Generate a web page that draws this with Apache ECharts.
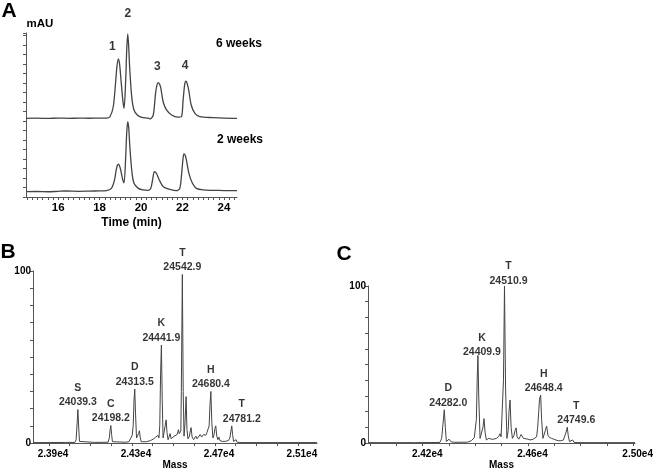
<!DOCTYPE html>
<html><head><meta charset="utf-8">
<script src="https://cdn.jsdelivr.net/npm/echarts@6/dist/echarts.min.js"></script>
<style>html,body{margin:0;padding:0;background:#fff}#c{width:656px;height:471px}</style>
</head><body><div id="c"></div>
<script>
// ---------------- DATA ----------------
// Panel A: chromatograms (time in min, absorbance in arbitrary units)
const timeTickLabels = [16, 18, 20, 22, 24];
const trace6w = [[14.45,8.28],[15.0,8.3],[15.5,8.27],[16.0,8.31],[16.5,8.28],[17.0,8.3],[17.5,8.29],[18.0,8.31],[18.33,8.3],[18.5,8.45],[18.66,9.5],[18.77,11.97],[18.84,13.8],[18.91,14.53],[18.97,13.9],[19.02,12.66],[19.12,10.2],[19.18,9.34],[19.26,12.3],[19.31,15.5],[19.36,17.16],[19.41,15.6],[19.45,13.7],[19.55,10.56],[19.66,9.16],[19.82,8.63],[20.03,8.39],[20.35,8.3],[20.45,8.22],[20.59,8.63],[20.7,10.9],[20.77,11.8],[20.83,12.03],[20.89,11.9],[20.95,11.5],[21.07,10.0],[21.23,9.16],[21.47,8.63],[21.79,8.4],[21.95,8.45],[22.03,10.2],[22.11,11.9],[22.17,12.2],[22.23,11.9],[22.3,11.26],[22.42,9.68],[22.6,8.8],[22.84,8.45],[23.48,8.35],[24.0,8.3],[24.63,8.28]];
const trace2w = [[14.45,0.56],[15.0,0.58],[15.5,0.55],[16.0,0.6],[16.4,0.63],[17.0,0.6],[17.5,0.62],[18.0,0.64],[18.33,0.67],[18.57,0.91],[18.72,1.79],[18.8,2.84],[18.86,3.35],[18.91,3.47],[18.96,3.3],[19.02,2.84],[19.12,1.79],[19.18,1.5],[19.26,4.24],[19.31,6.8],[19.36,7.93],[19.41,7.2],[19.45,5.65],[19.55,2.84],[19.66,1.44],[19.87,0.91],[20.1,0.74],[20.35,0.7],[20.47,0.91],[20.57,1.96],[20.64,2.67],[20.7,2.6],[20.76,2.42],[20.88,1.79],[21.07,1.09],[21.39,0.81],[21.71,0.67],[21.87,0.91],[21.96,2.49],[22.02,3.9],[22.07,4.53],[22.13,4.4],[22.19,3.89],[22.31,2.49],[22.48,1.44],[22.67,0.91],[22.99,0.74],[23.5,0.7],[24.0,0.68],[24.63,0.67]];
const peakNames = ['1', '2', '3', '4'];
const peakTimes = [18.91, 19.36, 20.83, 22.17];
const traceNames = ['6 weeks', '2 weeks'];

// Panel B: deconvoluted mass spectrum (mass in Da, relative intensity %)
const massTickLabelsB = [23900, 24300, 24700, 25100];
const specB = [[23823,0.3],[23900,0.3],[23980,0.4],[24025,0.4],[24031,2],[24036,12],[24039.3,19.5],[24043,10],[24047,1],[24052,0.4],[24120,0.4],[24185,0.5],[24191,3],[24195,8],[24198.2,10.2],[24202,5],[24206,0.8],[24215,0.5],[24270,0.5],[24285,0.8],[24295,3],[24301,4.5],[24306,10],[24310,25],[24313.5,31.4],[24317,18],[24322,3],[24327,2],[24332,5.5],[24336,7.2],[24340,3],[24345,0.8],[24370,0.8],[24390,1.5],[24405,2.5],[24415,3.5],[24420,2.5],[24425,4.5],[24430,3],[24434,10],[24438,40],[24441.9,57],[24446,25],[24450,3],[24456,4],[24460,10],[24464.8,13.5],[24469,6],[24474,2],[24480,4],[24484,5.5],[24489,2.5],[24495,3],[24503,4],[24510,3],[24518,5],[24524,7.8],[24528,5.5],[24532,6.5],[24535.7,7],[24538,30],[24542.9,98],[24547,30],[24551,4],[24556,12],[24561,27],[24565,8],[24570,2.5],[24577,4],[24581,7],[24585,9],[24590,3.5],[24597,2],[24603,3],[24608,4],[24614,2.5],[24620,3.5],[24629,5],[24636,3.5],[24641,4],[24645,5],[24651,4],[24656,4.5],[24661,6],[24667,5],[24672,10],[24676,22],[24680.4,30],[24685,12],[24690,3],[24696,5],[24700,8.5],[24704,10],[24709,4],[24714,2],[24719,3.5],[24724,1.5],[24735,1],[24750,1],[24765,1.5],[24772,3],[24777,7],[24781.2,10],[24785,5],[24790,1],[24797,1],[24802,2],[24807,0.5],[24830,0.3],[25000,0.3],[25192,0.3]];
const annLettersB = ['S', 'C', 'D', 'K', 'T', 'H', 'T'];
const annMassesB = [24039.3, 24198.2, 24313.5, 24441.9, 24542.9, 24680.4, 24781.2];

// Panel C: deconvoluted mass spectrum
const massTickLabelsC = [24200, 24600, 25000];
const specC = [[23992,0.3],[24100,0.3],[24160,0.3],[24167,1],[24172,0.3],[24265,0.4],[24272,3],[24277,12],[24282.0,21.2],[24286,10],[24290,1],[24296,0.8],[24300,2.5],[24303.7,3],[24308,0.8],[24320,0.5],[24370,0.6],[24385,1.5],[24392,2.5],[24396,3.5],[24400,3],[24404,15],[24407,40],[24409.9,55.8],[24413,30],[24418,3],[24425,2.5],[24429,10],[24433,15.6],[24437,7],[24442,2],[24451,3],[24456,4],[24461,2.5],[24470,2.5],[24480,3],[24488,4],[24494,6],[24498,4],[24503,5],[24507,40],[24510.9,100],[24515,35],[24520,3],[24525,8],[24528,20],[24532,27.4],[24536,10],[24541,3],[24547,5],[24551,8],[24555,9.7],[24559,4],[24565,2.5],[24570,4],[24574,5.5],[24578.6,6.2],[24583,3],[24590,2],[24600,2.5],[24608,2],[24614,3],[24620,2.5],[24627,3],[24633,4],[24637,10],[24641,20],[24644,28],[24648.4,30.5],[24652,15],[24657,3],[24662,4],[24666,8],[24671,10.8],[24676,5],[24682,3.5],[24690,3],[24698,2.5],[24706,2],[24715,1.5],[24725,1.5],[24735,2],[24740,3],[24745,7],[24749.6,10.1],[24753,5],[24758,1],[24765,1],[24770,2],[24775,0.5],[24790,0.3],[25007,0.3]];
const annLettersC = ['D', 'K', 'T', 'H', 'T'];
const annMassesC = [24282.0, 24409.9, 24510.9, 24648.4, 24749.6];
const intensityLabels = [0, 100];

// ---------------- STYLE ----------------
const FONT = '"Liberation Sans", Arial, Helvetica, sans-serif';
const TXT = '#000';
const AX = '#555';
const LINE = '#444';
const nudgeA = {'1': [-6, 2], '2': [0, -6], '3': [-1, -2], '4': [-1, -1]};
const nudgeB = {'24781.2': [10, 0]};
const nudgeC = {'24282.0': [4, 0], '24409.9': [4, 4], '24510.9': [4, 2], '24648.4': [3, 0], '24749.6': [9, 0]};

function peakValue(trace, x, win) {
  let best = -Infinity;
  for (const [t, v] of trace) if (Math.abs(t - x) <= win && v > best) best = v;
  return best;
}
function range(a, b, s) { const r = []; for (let v = a; v <= b + 1e-9; v += s) r.push(+v.toFixed(4)); return r; }

const boldTxt = (size) => ({fontFamily: FONT, fontWeight: 'bold', fontSize: size, color: TXT});

const annLabel = {
  show: true, position: 'top', distance: 1,
  rich: {
    l: {fontFamily: FONT, fontWeight: 'bold', fontSize: 10.5, color: TXT, lineHeight: 17, align: 'center'},
    n: {fontFamily: FONT, fontWeight: 'bold', fontSize: 10.5, color: TXT, lineHeight: 12, align: 'center'}
  }
};
function annData(letters, masses, spec, nudge) {
  return masses.map((m, i) => ({
    value: [m, peakValue(spec, m, 0.5)],
    label: {formatter: '{l|' + letters[i] + '}\n{n|' + m.toFixed(1) + '}', offset: nudge[m.toFixed(1)] || [0, 0]}
  }));
}

const chart = echarts.init(document.getElementById('c'));
chart.setOption({
  animation: false,
  grid: [
    {left: 26, top: 33, width: 211, height: 164},
    {left: 33, top: 271, width: 284, height: 176},
    {left: 368, top: 286, width: 267, height: 161}
  ],
  xAxis: [
    {gridIndex: 0, type: 'value', min: 14.45, max: 24.63,
     axisLine: {lineStyle: {color: AX}}, splitLine: {show: false},
     axisTick: {customValues: range(14.5, 24.5, 0.25), length: 3, lineStyle: {color: AX}},
     axisLabel: {customValues: timeTickLabels, margin: 5, ...boldTxt(11.5)},
     name: 'Time (min)', nameLocation: 'middle', nameGap: 20, nameTextStyle: boldTxt(12)},
    {gridIndex: 1, type: 'value', min: 23823, max: 25192,
     axisLine: {lineStyle: {color: AX}}, splitLine: {show: false},
     axisTick: {customValues: range(23900, 25100, 100), length: 3, lineStyle: {color: AX}},
     axisLabel: {customValues: massTickLabelsB, margin: 6, padding: [0, 0, 0, 8], formatter: v => (v / 1e4).toFixed(2) + 'e4', ...boldTxt(10)},
     name: 'Mass', nameLocation: 'middle', nameGap: 14, nameTextStyle: boldTxt(10)},
    {gridIndex: 2, type: 'value', min: 23992, max: 25007,
     axisLine: {lineStyle: {color: AX}}, splitLine: {show: false},
     axisTick: {customValues: range(24000, 25000, 100), length: 3, lineStyle: {color: AX}},
     axisLabel: {customValues: massTickLabelsC, margin: 6, padding: [0, 0, 0, 9], formatter: v => (v / 1e4).toFixed(2) + 'e4', ...boldTxt(10)},
     name: 'Mass', nameLocation: 'middle', nameGap: 14, nameTextStyle: boldTxt(10)}
  ],
  yAxis: [
    {gridIndex: 0, type: 'value', min: 0, max: 17.26, interval: 1,
     axisLine: {show: true, lineStyle: {color: AX}}, splitLine: {show: false},
     axisTick: {show: true, length: 3, lineStyle: {color: AX}}, axisLabel: {show: false}},
    {gridIndex: 1, type: 'value', min: 0, max: 100, interval: 10,
     axisLine: {show: true, lineStyle: {color: AX}}, splitLine: {show: false},
     axisTick: {show: true, length: 3, lineStyle: {color: AX}},
     axisLabel: {customValues: intensityLabels, margin: 2, ...boldTxt(10)}},
    {gridIndex: 2, type: 'value', min: 0, max: 100, interval: 10,
     axisLine: {show: true, lineStyle: {color: AX}}, splitLine: {show: false},
     axisTick: {show: true, length: 3, lineStyle: {color: AX}},
     axisLabel: {customValues: intensityLabels, margin: 2, ...boldTxt(10)}}
  ],
  graphic: [
    {type: 'text', x: 9, y: 11, style: {text: 'A', align: 'center', verticalAlign: 'middle', font: 'bold 21px ' + FONT, fill: TXT}},
    {type: 'text', x: 8, y: 252, style: {text: 'B', align: 'center', verticalAlign: 'middle', font: 'bold 21px ' + FONT, fill: TXT}},
    {type: 'text', x: 344, y: 254, style: {text: 'C', align: 'center', verticalAlign: 'middle', font: 'bold 21px ' + FONT, fill: TXT}},
    {type: 'text', x: 40, y: 24, style: {text: 'mAU', align: 'center', verticalAlign: 'middle', font: 'bold 11.5px ' + FONT, fill: TXT}},
    {type: 'text', x: 239, y: 44, style: {text: traceNames[0], align: 'center', verticalAlign: 'middle', font: 'bold 12px ' + FONT, fill: TXT}},
    {type: 'text', x: 240, y: 140, style: {text: traceNames[1], align: 'center', verticalAlign: 'middle', font: 'bold 12px ' + FONT, fill: TXT}}
  ],
  series: [
    {type: 'line', name: traceNames[0], xAxisIndex: 0, yAxisIndex: 0, data: trace6w, symbol: 'none', smooth: 0.3,
     lineStyle: {color: LINE, width: 1.3}},
    {type: 'line', name: traceNames[1], xAxisIndex: 0, yAxisIndex: 0, data: trace2w, symbol: 'none', smooth: 0.3,
     lineStyle: {color: LINE, width: 1.3}},
    {type: 'scatter', xAxisIndex: 0, yAxisIndex: 0, symbolSize: 0, silent: true,
     data: peakTimes.map((t, i) => ({value: [t, peakValue(trace6w, t, 0.02)], label: {offset: nudgeA[peakNames[i]]}})),
     label: {show: true, position: 'top', distance: 8, formatter: p => peakNames[p.dataIndex], ...boldTxt(12)}},
    {type: 'line', xAxisIndex: 1, yAxisIndex: 1, data: specB, symbol: 'none', lineStyle: {color: LINE, width: 1}},
    {type: 'scatter', xAxisIndex: 1, yAxisIndex: 1, symbolSize: 0, silent: true,
     data: annData(annLettersB, annMassesB, specB, nudgeB), label: annLabel},
    {type: 'line', xAxisIndex: 2, yAxisIndex: 2, data: specC, symbol: 'none', lineStyle: {color: LINE, width: 1}},
    {type: 'scatter', xAxisIndex: 2, yAxisIndex: 2, symbolSize: 0, silent: true,
     data: annData(annLettersC, annMassesC, specC, nudgeC), label: annLabel}
  ]
});
</script>
</body></html>
